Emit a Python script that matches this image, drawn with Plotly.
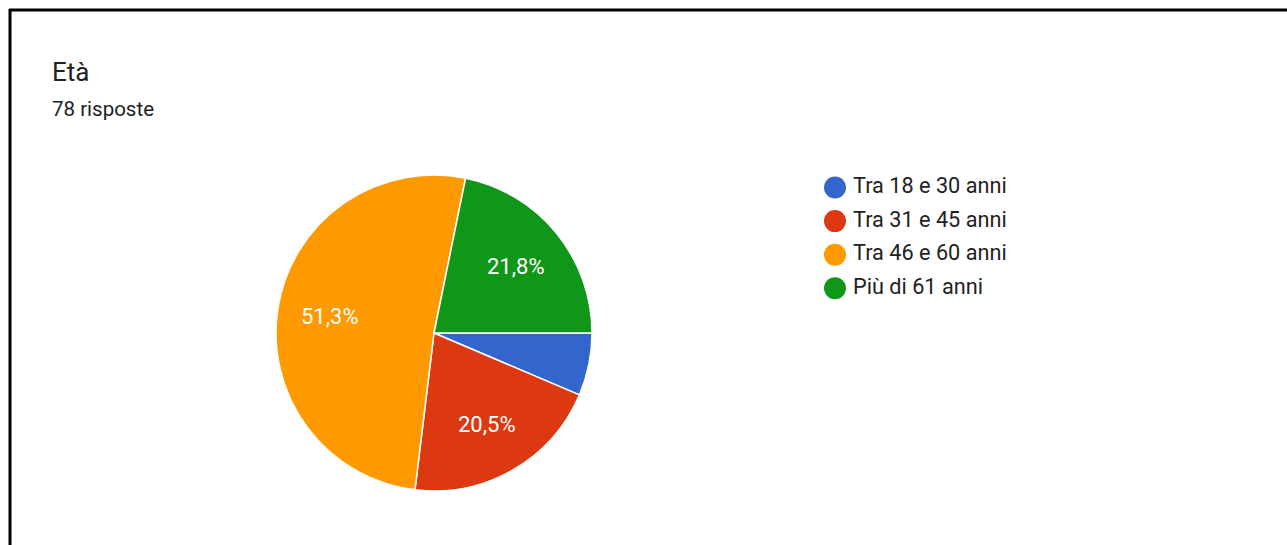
import math
import plotly.graph_objects as go

labels = ["Tra 18 e 30 anni", "Tra 31 e 45 anni", "Tra 46 e 60 anni", "Più di 61 anni"]
counts = [5, 16, 40, 17]
colors = ["#3366cc", "#dc3912", "#ff9900", "#109618"]
title = "Età"
subtitle = "78 risposte"

W, H = 1287, 545
total = sum(counts)

cx, cy, r = 434, 333, 158
label_frac = 0.67

fig = go.Figure()
fig.add_trace(go.Pie(
    labels=labels, values=counts, sort=False, direction="clockwise", rotation=90,
    marker=dict(colors=colors, line=dict(color="white", width=1.5)),
    textinfo="none", showlegend=False, hoverinfo="label+percent",
    domain=dict(x=[(cx - r) / W, (cx + r) / W], y=[1 - (cy + r) / H, 1 - (cy - r) / H]),
))

# percentage labels placed at the middle angle of each slice (clockwise from 3 o'clock)
annotations = []
cum = 0
for c in counts:
    p = c / total
    mid = (cum + p / 2) * 2 * math.pi
    cum += p
    if p < 0.10:
        continue
    px = cx + label_frac * r * math.cos(mid)
    py = cy + label_frac * r * math.sin(mid)
    annotations.append(dict(
        text=("%.1f%%" % (100 * p)).replace(".", ","), x=px / W, y=1 - py / H,
        xref="paper", yref="paper", xanchor="center", yanchor="middle", showarrow=False,
        font=dict(size=22, color="white", family="Roboto")))

# legend drawn as a category column of circles + labels
leg_top, leg_step = 187.5, 33.6
text_dx = 18 / (W - 835)
idx = list(range(len(labels)))
fig.add_trace(go.Scatter(
    x=[0] * len(labels), y=idx, mode="markers",
    marker=dict(color=colors, size=22, symbol="circle", line=dict(width=0)),
    showlegend=False, hoverinfo="skip", cliponaxis=False,
))
fig.add_trace(go.Scatter(
    x=[text_dx] * len(labels), y=idx, mode="text", text=labels,
    textposition="middle right",
    textfont=dict(size=21.7, color="#222222", family="Roboto"),
    showlegend=False, hoverinfo="skip", cliponaxis=False,
))

annotations += [
    dict(text=title, x=50 / W, y=1 - 72 / H, xref="paper", yref="paper",
         xanchor="left", yanchor="middle", showarrow=False,
         font=dict(size=26, color="#202124", family="Roboto")),
    dict(text=subtitle, x=50 / W, y=1 - 109 / H, xref="paper", yref="paper",
         xanchor="left", yanchor="middle", showarrow=False,
         font=dict(size=20.5, color="#202124", family="Roboto")),
]

fig.update_layout(
    width=W, height=H, margin=dict(l=0, r=0, t=0, b=0),
    paper_bgcolor="white", plot_bgcolor="rgba(0,0,0,0)",
    font=dict(family="Roboto", color="#202124"),
    showlegend=False,
    xaxis=dict(visible=False, range=[0, 1], domain=[835 / W, 1], fixedrange=True),
    yaxis=dict(visible=False, autorange=False, range=[3.5, -0.5], fixedrange=True,
               domain=[1 - (leg_top + 3.5 * leg_step) / H, 1 - (leg_top - 0.5 * leg_step) / H]),
    annotations=annotations,
    shapes=[
        dict(type="line", xref="paper", yref="paper", x0=9 / W, x1=1, y0=1 - 10 / H, y1=1 - 10 / H,
             line=dict(color="black", width=3)),
        dict(type="line", xref="paper", yref="paper", x0=10 / W, x1=10 / W, y0=0, y1=1 - 9 / H,
             line=dict(color="black", width=3)),
    ],
)
fig.write_html("out.html", config={"displayModeBar": False},
               post_script="document.body.style.margin='0px';")
